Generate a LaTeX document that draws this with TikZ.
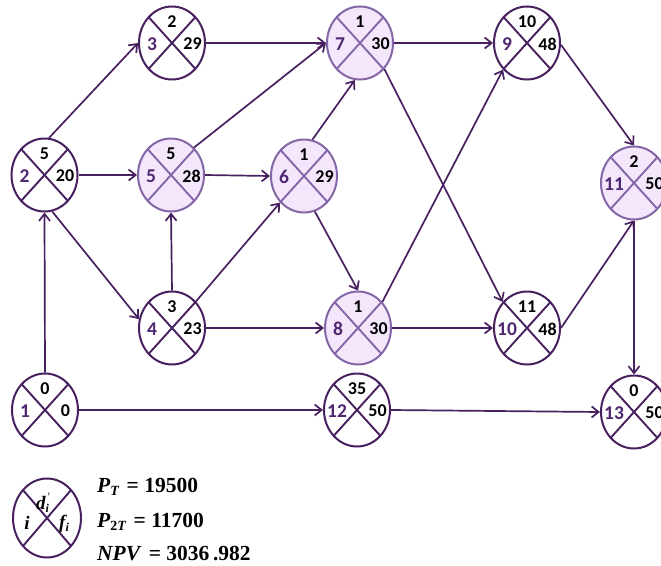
\documentclass[tikz,border=0pt]{standalone}
\usepackage{fontspec}
\setmainfont{Liberation Serif}
\newfontfamily\carl{Carlito}
\usetikzlibrary{shapes.geometric,arrows.meta,calc}
\definecolor{dpur}{HTML}{47205F}
\definecolor{lpur}{HTML}{8466A6}
\definecolor{lfill}{HTML}{F4E7FC}
\definecolor{numcol}{HTML}{4F2670}
\tikzset{
  plainnode/.style={ellipse,draw=dpur,line width=2pt,minimum width=66pt,minimum height=73pt,inner sep=0pt},
  hlnode/.style={ellipse,draw=lpur,fill=lfill,line width=2pt,minimum width=66pt,minimum height=73pt,inner sep=0pt},
  plainnodeline/.style={draw=dpur,line width=1.9pt},
  hlnodeline/.style={draw=lpur,line width=1.9pt},
  numlbl/.style={font=\carl\bfseries\fontsize{19.5}{21}\selectfont,text=numcol,inner sep=0pt},
  vallbl/.style={font=\carl\bfseries\fontsize{18}{20}\selectfont,text=black,inner sep=0pt},
  arr/.style={draw=dpur,line width=1.7pt,-{Straight Barb[length=7pt,width=11pt,line width=1.7pt]}},
  legtxt/.style={font=\fontsize{21.5}{24}\selectfont\bfseries,anchor=base west,inner sep=0pt},
  legsym/.style={font=\fontsize{19}{20}\selectfont\bfseries\itshape,inner sep=0pt}
}
\newcommand\pnode[7]{%
  \node[#7node] (#1) at (#2,#3) {};
  \draw[#7nodeline] ($(#1.center)+(-23.3,-25.8)$) -- ($(#1.center)+(23.3,25.8)$);
  \draw[#7nodeline] ($(#1.center)+(-23.3,25.8)$) -- ($(#1.center)+(23.3,-25.8)$);
  \node[numlbl] (#1-n) at ($(#1.center)+(-20,1)$) {#4};
  \node[vallbl] (#1-t) at ($(#1.center)+(0,-21)$) {#5};
  \node[vallbl] (#1-r) at ($(#1.center)+(20.5,1)$) {#6};
}
\begin{document}
\begin{tikzpicture}[x=1pt,y=-1pt]
\useasboundingbox (0,0) rectangle (661,565);
\clip (0,0) rectangle (661,565);
\pnode{n1}{45}{410}{1}{0}{0}{plain}
\pnode{n2}{44.5}{175}{2}{5}{20}{plain}
\pnode{n3}{172}{43}{3}{2}{29}{plain}
\pnode{n4}{172}{328}{4}{3}{23}{plain}
\pnode{n5}{171}{175}{5}{5}{28}{hl}
\pnode{n6}{304}{176}{6}{1}{29}{hl}
\pnode{n7}{360}{43}{7}{1}{30}{hl}
\pnode{n8}{358}{328}{8}{1}{30}{hl}
\pnode{n9}{527}{43}{9}{10}{48}{plain}
\pnode{n10}{527}{328}{10}{11}{48}{plain}
\pnode{n11}{634}{183}{11}{2}{50}{hl}
\pnode{n12}{357}{410}{12}{35}{50}{plain}
\pnode{n13}{634}{412}{13}{0}{50}{plain}
% edges
\draw[arr] (n1.north) -- (n2.south);
\draw[arr] (n1.east) -- (n12.west);
\draw[arr] (n2.83) -- (n3.west);
\draw[arr] (n2.east) -- (n5.west);
\draw[arr] (n2.282) -- (n4.165);
\draw[arr] (n3.east) -- (n7.west);
\draw[arr] (n4.north) -- (n5.south);
\draw[arr] (n4.48) -- (n6.228);
\draw[arr] (n4.east) -- (n8.west);
\draw[arr] (n5.50) -- (n7.west);
\draw[arr] (n5.east) -- (n6.west);
\draw[arr] (n6.77) -- (n7.262);
\draw[arr] (n6.287) -- (n8.north);
\draw[arr] (n7.east) -- (n9.west);
\draw[arr] (n7.313) -- (n10.133);
\draw[arr] (n8.47) -- (n9.228);
\draw[arr] (n8.east) -- (n10.west);
\draw[arr] (n9.357) -- (n11.north);
\draw[arr] (n10.east) -- (n11.south);
\draw[arr] (n11.south) -- (n13.north);
\draw[arr] (n12.east) -- (n13.west);
% legend
\node[ellipse,draw=dpur,line width=2pt,minimum width=68pt,minimum height=79pt,inner sep=0pt] (leg) at (47,518) {};
\draw[plainnodeline] ($(leg.center)+(-24,-28)$) -- ($(leg.center)+(24,28)$);
\draw[plainnodeline] ($(leg.center)+(-24,28)$) -- ($(leg.center)+(24,-28)$);
\node[legsym] (leg-i) at (27,523) {i};
\node[legsym,anchor=base west] (leg-d) at (36,509) {d\raisebox{-0.35ex}{\fontsize{12}{12}\selectfont i}};
\node[font=\fontsize{10}{10}\selectfont\bfseries,inner sep=0pt] (leg-p) at (49,496) {$'$};
\node[legsym,anchor=base west] (leg-f) at (59,528) {f\raisebox{-0.35ex}{\fontsize{12}{12}\selectfont i}};
\node[legtxt] (pt) at (97,492) {\textit{P}\raisebox{-0.35ex}{\fontsize{14}{14}\selectfont\textit{T}}\,\,= 19500};
\node[legtxt] (p2t) at (97,527) {\textit{P}\raisebox{-0.35ex}{\fontsize{14}{14}\selectfont 2\textit{T}}\,\,= 11700};
\node[legtxt] (npv) at (97,560) {\textit{NPV}\,\,= 3036\,.982};
\end{tikzpicture}
\end{document}
